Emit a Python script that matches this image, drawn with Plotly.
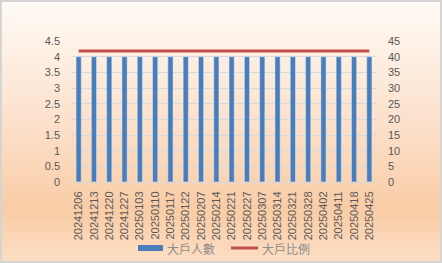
import plotly.graph_objects as go

dates = ["20241206", "20241213", "20241220", "20241227", "20250103", "20250110",
         "20250117", "20250122", "20250207", "20250214", "20250221", "20250227",
         "20250307", "20250314", "20250321", "20250328", "20250402", "20250411",
         "20250418", "20250425"]
holders = [4] * 20
ratio = [41.8] * 20
bar_name = "大戶人數"
line_name = "大戶比例"
bar_color = "#4a7ebb"
line_color = "#c0504d"

W, H = 442, 263

fig = go.Figure()
fig.add_trace(go.Bar(x=dates, y=holders, name=bar_name, marker_color=bar_color,
                     yaxis="y"))
fig.add_trace(go.Scatter(x=dates, y=ratio, name=line_name, mode="lines",
                         line=dict(color=line_color, width=3), yaxis="y2"))

# gradient background bands
def lerp(c1, c2, t):
    return tuple(round(a + (b - a) * t) for a, b in zip(c1, c2))

stops = [(0.0, (255, 251, 246)), (0.45, (252, 226, 205)), (0.8, (249, 204, 166)), (1.0, (252, 222, 196))]
shapes = []
N = 80
for i in range(N):
    t = (i + 0.5) / N  # from top
    for j in range(len(stops) - 1):
        if stops[j][0] <= t <= stops[j + 1][0]:
            tt = (t - stops[j][0]) / (stops[j + 1][0] - stops[j][0])
            c = lerp(stops[j][1], stops[j + 1][1], tt)
            break
    y1 = 1 - i / N
    y0 = 1 - (i + 1) / N
    shapes.append(dict(type="rect", xref="paper", yref="paper", x0=0, x1=1,
                       y0=y0 - 0.002, y1=y1 + 0.002, fillcolor="rgb(%d,%d,%d)" % c,
                       line=dict(width=0), layer="below"))
shapes.append(dict(type="rect", xref="paper", yref="paper", x0=0.002, x1=0.998,
                   y0=0.004, y1=0.996, line=dict(color="#d4d4d4", width=2),
                   fillcolor="rgba(0,0,0,0)", layer="above"))

# custom legend (Excel style)
def px(x):
    return x / W

def py(y):
    return (H - y) / H

ly = 248
shapes.append(dict(type="rect", xref="paper", yref="paper", x0=px(138), x1=px(163),
                   y0=py(ly + 3), y1=py(ly - 3), fillcolor=bar_color, line=dict(width=0)))
shapes.append(dict(type="line", xref="paper", yref="paper", x0=px(231), x1=px(258),
                   y0=py(ly), y1=py(ly), line=dict(color=line_color, width=3)))
legend_font = dict(family="Noto Sans CJK TC, sans-serif", size=12, color="#8c8c8c")
annotations = [
    dict(text=bar_name, xref="paper", yref="paper", x=px(165), y=py(ly), xanchor="left",
         yanchor="middle", showarrow=False, font=legend_font),
    dict(text=line_name, xref="paper", yref="paper", x=px(260), y=py(ly), xanchor="left",
         yanchor="middle", showarrow=False, font=legend_font),
]

font_tick = dict(family="Liberation Sans, Arial, sans-serif", size=11, color="#595959")

fig.update_layout(
    width=W, height=H,
    margin=dict(l=0, r=0, t=0, b=0),
    paper_bgcolor="rgba(0,0,0,0)",
    plot_bgcolor="rgba(0,0,0,0)",
    shapes=shapes,
    annotations=annotations,
    bargap=0.66,
    showlegend=False,
    xaxis=dict(domain=[71 / W, 377 / W], type="category", tickangle=-90,
               tickfont=font_tick, showgrid=False, automargin=False,
               showline=True, linecolor="#d9d9d9", ticks="", ticklabelstandoff=4),
    yaxis=dict(domain=[(H - 182) / H, (H - 41) / H], range=[0, 4.5], dtick=0.5,
               tickfont=font_tick, gridcolor="#d9d9d9", gridwidth=1,
               zeroline=False, automargin=False, ticks="", ticklabelstandoff=10),
    yaxis2=dict(overlaying="y", side="right", range=[0, 45], dtick=5,
                tickfont=font_tick, showgrid=False, zeroline=False,
                automargin=False, ticks="", ticklabelstandoff=10),
)

fig.write_html("out.html")
